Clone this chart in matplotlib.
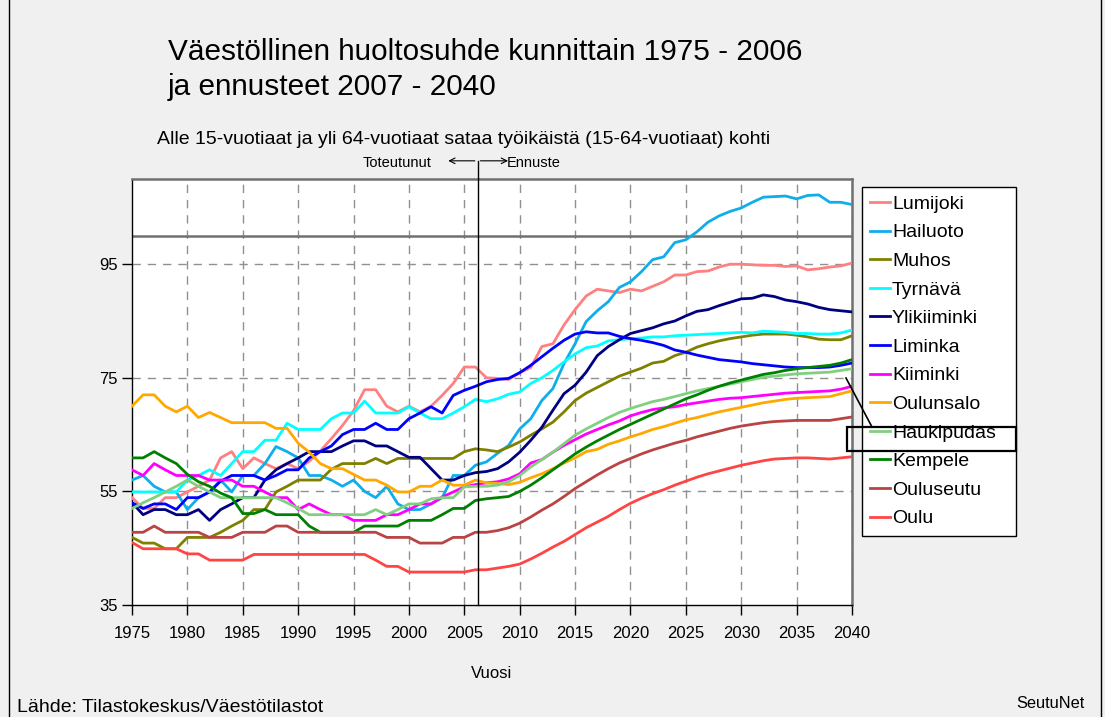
import matplotlib
matplotlib.use("Agg")
import matplotlib.pyplot as plt
from matplotlib.patches import Rectangle
from matplotlib.lines import Line2D

plt.rcParams['font.family'] = ['Liberation Sans', 'DejaVu Sans']

years = list(range(1975, 2041))

# dependency ratio per municipality, 1975-2006 actual, 2007-2040 forecast
lumijoki = [53.9, 52.0, 52.0, 53.9, 53.9, 54.9, 55.9, 57.0, 60.9, 62.0,
            59.0, 60.9, 59.9, 59.0, 59.9, 59.0, 60.3, 62.1, 64.3, 66.6,
            69.2, 72.9, 72.9, 70.0, 69.0, 70.0, 69.0, 70.0, 71.9, 74.0,
            76.9, 76.9, 75.0, 74.9, 74.7, 75.9, 76.8, 80.5, 81.0, 84.3,
            87.0, 89.4, 90.6, 90.3, 90.0, 90.6, 90.3, 91.1, 91.9, 93.1,
            93.1, 93.7, 93.8, 94.5, 95.0, 95.0, 94.9, 94.8, 94.8, 94.6,
            94.7, 94.0, 94.2, 94.5, 94.7, 95.2]
hailuoto = [57.0, 57.8, 55.9, 54.9, 54.9, 51.8, 53.9, 54.9, 57.0, 54.9,
            57.8, 57.8, 59.9, 62.9, 62.0, 60.9, 57.8, 57.8, 57.0, 55.9,
            57.0, 55.0, 53.9, 55.9, 52.8, 51.8, 51.8, 52.8, 53.9, 57.8,
            57.8, 59.6, 60.2, 61.7, 63.1, 66.0, 67.8, 71.0, 73.1, 77.5,
            81.0, 84.9, 86.8, 88.4, 90.9, 91.9, 93.7, 95.8, 96.3, 98.8,
            99.3, 100.7, 102.4, 103.5, 104.3, 104.9, 105.9, 106.8, 106.9, 107.0,
            106.5, 107.1, 107.2, 105.9, 105.9, 105.5]
muhos = [46.9, 45.9, 45.9, 44.9, 44.9, 46.9, 46.9, 46.9, 47.8, 48.9,
         49.9, 51.8, 51.8, 54.9, 55.9, 57.0, 57.0, 57.0, 58.9, 59.9,
         59.9, 59.9, 60.8, 59.9, 60.8, 60.8, 60.8, 60.8, 60.8, 60.8,
         62.0, 62.5, 62.3, 62.0, 62.8, 63.7, 64.9, 66.0, 67.2, 69.0,
         71.0, 72.3, 73.3, 74.3, 75.3, 76.0, 76.7, 77.6, 77.9, 78.9,
         79.5, 80.4, 81.0, 81.5, 81.9, 82.2, 82.5, 82.7, 82.7, 82.7,
         82.5, 82.2, 81.8, 81.7, 81.7, 82.4]
tyrnava = [54.9, 54.9, 54.9, 54.9, 54.9, 57.0, 57.8, 58.8, 57.8, 59.9,
           62.0, 62.0, 64.0, 64.0, 67.0, 65.9, 65.9, 65.9, 67.8, 68.8,
           68.8, 70.9, 68.8, 68.8, 68.8, 69.9, 68.8, 67.8, 67.8, 68.8,
           69.9, 71.2, 70.8, 71.3, 72.1, 72.5, 74.0, 75.0, 76.3, 77.8,
           79.2, 80.3, 80.6, 81.5, 81.7, 81.9, 82.0, 82.2, 82.2, 82.4,
           82.5, 82.6, 82.7, 82.8, 82.9, 83.0, 82.9, 83.2, 83.1, 83.0,
           82.8, 82.8, 82.7, 82.7, 82.9, 83.4]
ylikiiminki = [53.0, 50.9, 51.8, 51.8, 50.9, 50.9, 51.8, 49.9, 51.8, 52.8,
               53.9, 53.9, 57.0, 58.8, 59.9, 60.9, 62.0, 62.0, 62.0, 63.0,
               63.9, 63.9, 63.0, 63.0, 62.0, 61.0, 61.0, 59.0, 57.0, 57.0,
               57.8, 58.3, 58.5, 59.0, 60.2, 61.9, 64.0, 66.3, 69.3, 72.2,
               73.7, 76.0, 78.9, 80.5, 81.7, 82.8, 83.3, 83.8, 84.5, 85.0,
               85.9, 86.7, 87.0, 87.7, 88.3, 88.9, 89.0, 89.6, 89.3, 88.7,
               88.4, 88.0, 87.4, 87.0, 86.8, 86.6]
liminka = [53.0, 52.0, 52.8, 52.8, 51.8, 53.9, 53.9, 54.9, 56.8, 57.8,
           57.8, 57.8, 57.0, 57.8, 58.8, 58.8, 60.9, 62.0, 63.0, 65.0,
           65.9, 65.9, 67.0, 65.9, 65.9, 67.8, 68.8, 69.9, 68.8, 71.9,
           72.8, 73.5, 74.3, 74.7, 74.9, 75.9, 77.2, 78.7, 80.2, 81.6,
           82.7, 83.1, 82.9, 82.9, 82.3, 81.9, 81.6, 81.2, 80.7, 79.9,
           79.5, 79.0, 78.6, 78.2, 78.0, 77.8, 77.5, 77.3, 77.1, 76.9,
           76.8, 76.8, 76.8, 76.9, 77.2, 77.6]
kiiminki = [58.8, 57.8, 59.9, 58.8, 57.8, 57.8, 57.8, 57.0, 57.0, 57.0,
            55.9, 55.9, 54.9, 53.9, 53.9, 51.8, 52.8, 51.8, 50.9, 50.9,
            49.9, 49.9, 49.9, 50.9, 50.9, 51.8, 52.8, 52.8, 54.0, 54.9,
            55.8, 56.2, 56.5, 56.7, 57.2, 58.1, 60.0, 60.6, 61.9, 63.1,
            64.1, 65.1, 65.9, 66.7, 67.4, 68.3, 68.9, 69.4, 69.7, 69.9,
            70.3, 70.6, 70.9, 71.2, 71.4, 71.5, 71.7, 71.9, 72.1, 72.3,
            72.4, 72.5, 72.6, 72.7, 73.0, 73.5]
oulunsalo = [70.0, 72.0, 72.0, 70.0, 69.0, 70.0, 68.0, 68.9, 68.0, 67.1,
             67.1, 67.1, 67.1, 66.1, 66.1, 63.5, 61.9, 59.9, 59.0, 59.0,
             58.0, 57.0, 57.0, 56.1, 54.9, 54.9, 55.9, 55.9, 57.0, 56.1,
             56.1, 57.0, 56.5, 56.4, 56.2, 56.6, 57.4, 58.1, 59.0, 60.0,
             60.9, 62.0, 62.4, 63.3, 63.9, 64.6, 65.2, 65.9, 66.4, 67.0,
             67.6, 68.0, 68.5, 69.0, 69.4, 69.8, 70.2, 70.6, 70.9, 71.2,
             71.4, 71.5, 71.6, 71.7, 72.2, 72.7]
haukipudas = [52.0, 53.0, 53.9, 54.9, 55.9, 57.0, 55.9, 54.9, 53.9, 53.9,
              53.9, 53.9, 53.9, 53.9, 53.0, 52.0, 50.9, 50.9, 50.9, 50.9,
              50.9, 50.9, 51.8, 50.9, 51.8, 52.8, 52.8, 53.7, 53.9, 53.9,
              55.8, 55.9, 55.9, 56.1, 56.7, 57.8, 59.3, 60.6, 61.9, 63.4,
              64.9, 66.0, 67.0, 68.0, 68.9, 69.6, 70.2, 70.8, 71.2, 71.7,
              72.2, 72.7, 73.1, 73.5, 73.9, 74.3, 74.7, 75.1, 75.3, 75.5,
              75.7, 75.8, 75.9, 76.0, 76.3, 76.6]
kempele = [60.9, 60.9, 62.0, 60.9, 59.9, 58.0, 56.7, 55.9, 54.7, 53.9,
           51.1, 51.1, 51.8, 50.9, 50.9, 50.9, 48.9, 47.8, 47.8, 47.8,
           47.8, 48.9, 48.9, 48.9, 48.9, 49.9, 49.9, 49.9, 50.9, 52.0,
           52.0, 53.4, 53.7, 53.9, 54.1, 55.0, 56.1, 57.4, 58.8, 60.2,
           61.6, 62.8, 63.9, 64.9, 65.9, 66.8, 67.7, 68.6, 69.5, 70.4,
           71.3, 72.0, 72.8, 73.5, 74.1, 74.6, 75.1, 75.6, 75.9, 76.3,
           76.6, 76.8, 77.0, 77.2, 77.6, 78.2]
ouluseutu = [47.8, 47.8, 48.9, 47.8, 47.8, 47.8, 47.8, 46.9, 46.9, 46.9,
             47.8, 47.8, 47.8, 48.9, 48.9, 47.8, 47.8, 47.8, 47.8, 47.8,
             47.8, 47.8, 47.8, 46.9, 46.9, 46.9, 45.9, 45.9, 45.9, 46.9,
             46.9, 47.8, 47.8, 48.1, 48.6, 49.4, 50.5, 51.7, 52.8, 54.1,
             55.5, 56.7, 57.9, 59.0, 60.0, 60.8, 61.6, 62.3, 62.9, 63.5,
             64.0, 64.6, 65.1, 65.6, 66.1, 66.5, 66.8, 67.1, 67.3, 67.4,
             67.5, 67.5, 67.5, 67.5, 67.8, 68.1]
oulu = [46.0, 44.9, 44.9, 44.9, 44.9, 44.0, 44.0, 42.9, 42.9, 42.9,
        42.9, 43.9, 43.9, 43.9, 43.9, 43.9, 43.9, 43.9, 43.9, 43.9,
        43.9, 43.9, 42.9, 41.8, 41.8, 40.8, 40.8, 40.8, 40.8, 40.8,
        40.8, 41.2, 41.2, 41.5, 41.8, 42.2, 43.1, 44.1, 45.2, 46.2,
        47.4, 48.6, 49.6, 50.6, 51.8, 52.9, 53.8, 54.6, 55.3, 56.1,
        56.8, 57.5, 58.1, 58.6, 59.1, 59.6, 60.0, 60.4, 60.7, 60.8,
        60.9, 60.9, 60.8, 60.7, 60.9, 61.1]

names = ['Lumijoki', 'Hailuoto', 'Muhos', 'Tyrnävä', 'Ylikiiminki', 'Liminka',
         'Kiiminki', 'Oulunsalo', 'Haukipudas', 'Kempele', 'Ouluseutu', 'Oulu']
series = [lumijoki, hailuoto, muhos, tyrnava, ylikiiminki, liminka,
          kiiminki, oulunsalo, haukipudas, kempele, ouluseutu, oulu]
colors = ['#FF8080', '#0FAEEA', '#808000', '#00FFFF', '#000080', '#0000FF',
          '#FF00FF', '#FFA800', '#80D080', '#008000', '#B84444', '#FF4444']

yticks = [35, 55, 75, 95]
xticks = list(range(1975, 2041, 5))
split_year = 2006.2

W, H = 1105, 717
fig = plt.figure(figsize=(W / 100, H / 100), dpi=100)
fig.patch.set_facecolor('#F0F0F0')

ax = fig.add_axes([132 / W, 1 - 605 / H, 720 / W, 426 / H])
ax.set_facecolor('white')

for name, vals, c in zip(names, series, colors):
    ax.plot(years, vals, color=c, lw=2.0, label=name, zorder=3)

ax.set_xlim(1975, 2040)
ax.set_ylim(35, 110)
ax.set_xticks(xticks)
ax.set_yticks(yticks)
ax.tick_params(axis='both', labelsize=12, direction='out', length=7, width=1,
               color='black')
ax.tick_params(axis='x', pad=8)

# dashed grid
for yv in yticks[1:]:
    ax.axhline(yv, color='#909090', lw=1, ls=(0, (6, 5)), zorder=1)
for xv in xticks[1:]:
    ax.axvline(xv, color='#909090', lw=1, ls=(0, (6, 5)), zorder=1)
ax.axhline(100, color='#707070', lw=1.8, zorder=2)

for s in ['left', 'bottom']:
    ax.spines[s].set_color('black')
    ax.spines[s].set_linewidth(1)
for s in ['top', 'right']:
    ax.spines[s].set_color('#707070')
    ax.spines[s].set_linewidth(1.8)

# actual / forecast split
ax.plot([split_year, split_year], [35, 113.2], color='black', lw=1,
        clip_on=False, zorder=4)
ax.annotate('', xy=(2003.3, 113.2), xytext=(split_year, 113.2),
            arrowprops=dict(arrowstyle='->', lw=0.8, color='black'),
            annotation_clip=False)
ax.annotate('', xy=(2009.2, 113.2), xytext=(split_year, 113.2),
            arrowprops=dict(arrowstyle='->', lw=0.8, color='black'),
            annotation_clip=False)
ax.text(2002.0, 112.8, 'Toteutunut', ha='right', va='center', fontsize=10.5)
ax.text(2008.8, 112.8, 'Ennuste', ha='left', va='center', fontsize=10.5)

ax.set_xlabel('Vuosi', fontsize=12, labelpad=18)

leg = ax.legend(loc='upper left',
                bbox_to_anchor=(862 / W, 1 - 530 / H, 154 / W, 343 / H),
                bbox_transform=fig.transFigure, mode='expand', fontsize=14,
                frameon=True, fancybox=False, edgecolor='black', framealpha=1,
                handlelength=1.0, handletextpad=0.12, labelspacing=0.565,
                borderpad=0.42, borderaxespad=0)
leg.get_frame().set_linewidth(1)

# highlight box + leader line
fig.patches.append(Rectangle((847 / W, 1 - 451 / H), 169 / W, 24 / H,
                             transform=fig.transFigure, fill=False,
                             edgecolor='black', lw=1.6, zorder=10))
fig.lines.append(Line2D([846 / W, 872 / W], [1 - 378 / H, 1 - 427 / H],
                        transform=fig.transFigure, color='black', lw=1.2,
                        zorder=10))

fig.text(168 / W, 1 - 52 / H,
         'Väestöllinen huoltosuhde kunnittain 1975 - 2006',
         fontsize=21.4, ha='left', va='center')
fig.text(168 / W, 1 - 87 / H, 'ja ennusteet 2007 - 2040',
         fontsize=21.4, ha='left', va='center')
fig.text(157 / W, 1 - 139 / H,
         'Alle 15-vuotiaat ja yli 64-vuotiaat sataa työikäistä (15-64-vuotiaat) kohti',
         fontsize=14, ha='left', va='center')
fig.text(17 / W, 1 - 707 / H, 'Lähde: Tilastokeskus/Väestötilastot',
         fontsize=14, ha='left', va='center')
fig.text(1085 / W, 1 - 703 / H, 'SeutuNet', fontsize=11.8, ha='right',
         va='center')

# outer frame
fig.lines.append(Line2D([9 / W, 9 / W], [0, 1], transform=fig.transFigure,
                        color='black', lw=1))
fig.lines.append(Line2D([1101 / W, 1101 / W], [0, 1],
                        transform=fig.transFigure, color='black', lw=1))

fig.savefig('out.png', dpi=100, facecolor=fig.get_facecolor())
